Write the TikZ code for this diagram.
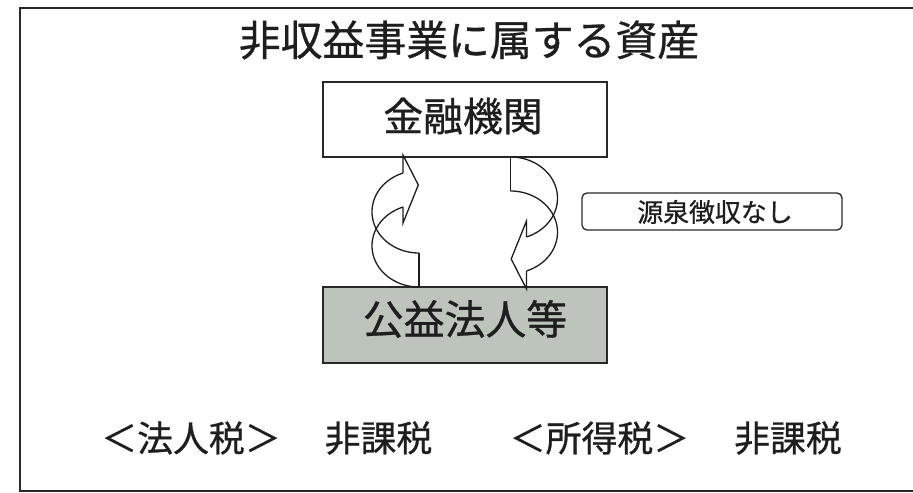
\documentclass[tikz,border=0pt]{standalone}
\usepackage{fontspec}
\setmainfont{Noto Sans CJK JP}[BoldFont=Noto Sans CJK JP, BoldFeatures={FakeBold=0.7}]
\definecolor{inkc}{RGB}{30,30,30}
\definecolor{linec}{RGB}{40,40,40}
\definecolor{grayfill}{RGB}{188,196,188}
\tikzset{
  frameline/.style={draw=linec, line width=2bp},
  boxline/.style={draw=linec, line width=1.6bp, inner sep=0pt, outer sep=0pt},
  arrowline/.style={draw=inkc, line width=1.3bp, line join=miter},
  txt/.style={text=inkc, inner sep=0pt},
}
\newcommand\curvedarrowshape{%
  \draw[arrowline] plot[domain=250.1:90, samples=60, variable=\t] ({419+47*cos(\t)},{211.8+41.2*sin(\t)});
  \draw[arrowline] plot[domain=250.1:90, samples=60, variable=\t] ({419+47*cos(\t)},{245.8+41.2*sin(\t)});
  \draw[arrowline] (419,253) -- (419,287);
  \draw[arrowline] (403,173) -- (403,155) -- (418.3,185) -- (403,223) -- (403,207);
}
\begin{document}
\begin{tikzpicture}[x=1bp,y=-1bp]
\useasboundingbox (0,0) rectangle (913,493);
\fill[white] (0,0) rectangle (913,493);
\begin{scope}
  \clip (0,0) rectangle (913,493);
  \draw[frameline] (20,8) rectangle (940,491);
\end{scope}
% title
\node[txt, font=\fontsize{42}{46}\selectfont\bfseries] (title) at (469,40) {非収益事業に属する資産};
% boxes
\node[boxline, minimum width=284bp, minimum height=75bp] (bank) at (465,119.5) {};
\node[txt, font=\fontsize{40}{44}\selectfont\bfseries] (banktext) at (463,116) {金融機関};
\node[boxline, fill=grayfill, minimum width=284bp, minimum height=76bp] (corp) at (465,325) {};
\node[txt, font=\fontsize{41}{45}\selectfont\bfseries] (corptext) at (465,319) {公益法人等};
\node[boxline, rounded corners=5bp, line width=1.3bp, minimum width=260bp, minimum height=37bp] (tax) at (712,211.5) {};
\node[txt, font=\fontsize{26}{30}\selectfont\bfseries] (taxtext) at (715,212) {源泉徴収なし};
% curved arrows
\curvedarrowshape
\begin{scope}[rotate around={180:(464.75,222)}]
  \curvedarrowshape
\end{scope}
% bottom texts
\node[txt, font=\fontsize{36}{40}\selectfont\bfseries] (hj) at (191,438) {＜法人税＞};
\node[txt, font=\fontsize{36}{40}\selectfont\bfseries] (hk1) at (378.5,438) {非課税};
\node[txt, font=\fontsize{36}{40}\selectfont\bfseries] (sj) at (599.5,438) {＜所得税＞};
\node[txt, font=\fontsize{36}{40}\selectfont\bfseries] (hk2) at (788,438) {非課税};
\end{tikzpicture}
\end{document}
